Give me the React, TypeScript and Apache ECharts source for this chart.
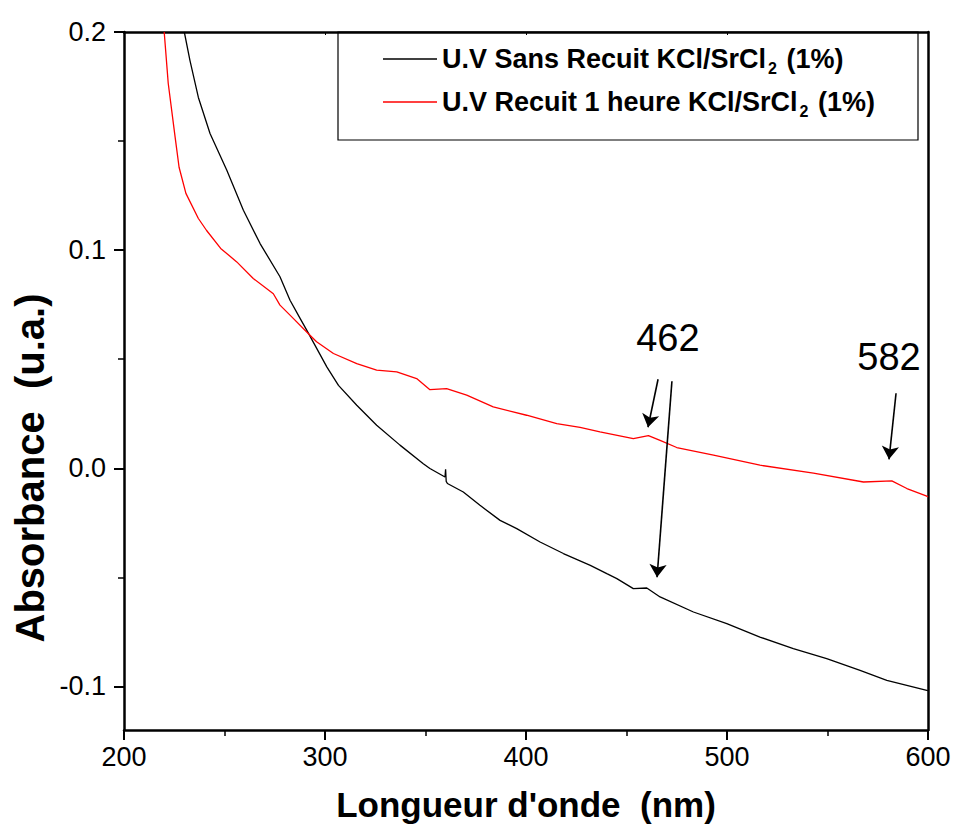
import React, { useEffect, useRef } from "react";
import * as echarts from "echarts";

// Wavelength (nm) and absorbance (u.a.)
const wavelengthBlack = [230, 232.8, 237, 242.8, 251.1, 259.4, 267.7, 277.6, 282.6, 287.6, 290.9, 300.9, 306.7, 315.8, 325.7, 337.3, 348.9, 352.2, 359.7, 360, 360.3, 360.9, 368.8, 377.1, 387.1, 395.4, 407, 418.6, 432, 440.2, 445.2, 453.4, 460.1, 466.7, 483.3, 499.9, 516.4, 533, 549.6, 566.2, 579.5, 599.4, 600];
const absorbanceBlack = [0.2, 0.187, 0.17, 0.1535, 0.1367, 0.1183, 0.103, 0.0878, 0.077, 0.0687, 0.0633, 0.0465, 0.038, 0.0289, 0.0197, 0.0106, 0.0021, -0.0001, -0.004, -0.0005, -0.006, -0.007, -0.0109, -0.017, -0.0239, -0.0277, -0.0338, -0.0391, -0.0445, -0.0483, -0.0506, -0.0552, -0.0549, -0.059, -0.0659, -0.0712, -0.0774, -0.0827, -0.0873, -0.0927, -0.0972, -0.1018, -0.102];

const wavelengthRed = [220, 222, 225.4, 227.4, 230.8, 237, 241.1, 248.1, 256.1, 264.3, 274.3, 277.6, 284.2, 290.9, 295.8, 304.2, 315.8, 325.7, 335.7, 345.6, 352.2, 360.5, 370.5, 383.7, 400.3, 415.3, 426.9, 436.8, 453.4, 460.9, 466.7, 475, 493.3, 516.4, 543, 567.9, 582, 589.5, 599.4, 600];
const absorbanceRed = [0.2, 0.1765, 0.152, 0.138, 0.126, 0.1145, 0.109, 0.1008, 0.0946, 0.087, 0.08, 0.0748, 0.0687, 0.0625, 0.058, 0.0526, 0.048, 0.045, 0.0442, 0.0411, 0.036, 0.0365, 0.0335, 0.0281, 0.0243, 0.0205, 0.0187, 0.0167, 0.0136, 0.015, 0.0128, 0.0095, 0.006, 0.0014, -0.0022, -0.0063, -0.0058, -0.0093, -0.0128, -0.0132];

const seriesNames = ["U.V Sans Recuit KCl/SrCl2 (1%)", "U.V Recuit 1 heure KCl/SrCl2 (1%)"];
const legendParts = [
  ["U.V Sans Recuit KCl/SrCl", "2", " (1%)"],
  ["U.V Recuit 1 heure KCl/SrCl", "2", " (1%)"],
];

const yMajorTicks = [-0.1, 0, 0.1, 0.2];
const yMinorTicks = [-0.05, 0.05, 0.15];

const peakLabels = ["462", "582"];
const peakLabelCoords = [[470.6, 0.0596], [580.6, 0.0509]];
// arrows: [start, end] in data coordinates
const arrows = [
  [[465.7, 0.0408], [460.7, 0.0188]],
  [[472.6, 0.0399], [465.2, -0.0500]],
  [[584.1, 0.0344], [580.6, 0.0041]],
];

const FONT = "'Liberation Sans', Arial, Helvetica, sans-serif";

function zip(xs: number[], ys: number[]) {
  return xs.map((x, i) => [x, ys[i]]);
}

export default function App() {
  const ref = useRef<HTMLDivElement>(null);
  useEffect(() => {
    if (!ref.current) return;
    const chart = echarts.init(ref.current, null, { renderer: "svg" });
    const grid = { left: 124, right: 26, top: 32, bottom: 108 };
    const yBase = { type: "value", min: -0.12, max: 0.2, splitLine: { show: false } };
    chart.setOption({
      animation: false,
      backgroundColor: "#fff",
      grid,
      xAxis: [
        {
          type: "value",
          min: 200,
          max: 600,
          interval: 100,
          position: "bottom",
          name: "Longueur d'onde  (nm)",
          nameLocation: "middle",
          nameGap: 57,
          nameTextStyle: { fontSize: 35, fontWeight: "bold", color: "#000", fontFamily: FONT },
          axisLine: { show: true, onZero: false, lineStyle: { color: "#000", width: 2.5 } },
          axisTick: { show: true, inside: false, length: 10, lineStyle: { color: "#000", width: 2 } },
          minorTick: { show: true, splitNumber: 2, length: 6, lineStyle: { color: "#000", width: 1.5 } },
          axisLabel: { color: "#000", fontSize: 27, fontFamily: FONT, margin: 13 },
          splitLine: { show: false },
          minorSplitLine: { show: false },
        },
        {
          type: "value",
          min: 200,
          max: 600,
          interval: 100,
          position: "top",
          axisLine: { show: true, onZero: false, lineStyle: { color: "#000", width: 2.5 } },
          axisTick: { show: true, inside: true, length: 3, lineStyle: { color: "#000", width: 1 } },
          axisLabel: { show: false },
          splitLine: { show: false },
        },
      ],
      yAxis: [
        {
          ...yBase,
          position: "left",
          axisLine: { show: true, onZero: false, lineStyle: { color: "#000", width: 2.5 } },
          axisTick: { show: true, inside: false, length: 10, lineStyle: { color: "#000", width: 2 }, customValues: yMajorTicks },
          axisLabel: {
            color: "#000",
            fontSize: 27,
            fontFamily: FONT,
            margin: 18,
            customValues: yMajorTicks,
            formatter: (v: number) => (Math.abs(v) < 1e-9 ? "0.0" : v.toFixed(1)),
          },
        },
        {
          ...yBase,
          position: "left",
          axisLine: { show: false, onZero: false },
          axisTick: { show: true, inside: false, length: 6, lineStyle: { color: "#000", width: 1.5 }, customValues: yMinorTicks },
          axisLabel: { show: false, customValues: yMinorTicks },
        },
        {
          ...yBase,
          position: "right",
          axisLine: { show: true, onZero: false, lineStyle: { color: "#000", width: 2.5 } },
          axisTick: { show: false },
          axisLabel: { show: false },
        },
      ],
      legend: {
        orient: "vertical",
        left: 378,
        top: 37,
        itemWidth: 54,
        itemHeight: 1.5,
        itemGap: 9,
        icon: "rect",
        data: seriesNames,
        formatter: (name: string) => {
          const p = legendParts[seriesNames.indexOf(name)];
          return `{b|${p[0]}}{s|${p[1]}}{b|${p[2]}}`;
        },
        textStyle: {
          color: "#000",
          fontFamily: FONT,
          fontWeight: "bold",
          fontSize: 27,
          rich: {
            b: { fontSize: 27, fontWeight: "bold", fontFamily: FONT, color: "#000", lineHeight: 34 },
            s: { fontSize: 16, fontWeight: "bold", fontFamily: FONT, color: "#000", padding: [18, 2, 0, 2], lineHeight: 34 },
          },
        },
      },
      graphic: [
        {
          type: "rect",
          shape: { x: 338, y: 32, width: 580, height: 108 },
          style: { fill: "none", stroke: "#000", lineWidth: 1.2 },
          z: 1,
        },
        {
          type: "text",
          x: 30,
          y: 468,
          rotation: Math.PI / 2,
          style: {
            text: "Absorbance  (u.a.)",
            fontSize: 40,
            fontWeight: "bold",
            fontFamily: FONT,
            fill: "#000",
            align: "center",
            verticalAlign: "middle",
          },
        },
      ],
      series: [
        {
          name: seriesNames[0],
          type: "line",
          xAxisIndex: 0,
          yAxisIndex: 0,
          data: zip(wavelengthBlack, absorbanceBlack),
          showSymbol: false,
          symbol: "none",
          clip: true,
          color: "#000",
          lineStyle: { color: "#000", width: 1.3 },
          markLine: {
            silent: true,
            symbol: ["none", "arrow"],
            symbolSize: 13,
            label: { show: false },
            lineStyle: { color: "#000", width: 1.6, type: "solid" },
            data: arrows.map((a) => [{ coord: a[0] }, { coord: a[1] }]),
          },
          markPoint: {
            silent: true,
            symbol: "circle",
            symbolSize: 1,
            itemStyle: { color: "rgba(0,0,0,0)" },
            label: { show: true, position: "inside", color: "#000", fontSize: 38, fontFamily: FONT },
            data: peakLabels.map((t, i) => ({ coord: peakLabelCoords[i], value: t, label: { formatter: t } })),
          },
        },
        {
          name: seriesNames[1],
          type: "line",
          xAxisIndex: 0,
          yAxisIndex: 0,
          data: zip(wavelengthRed, absorbanceRed),
          showSymbol: false,
          symbol: "none",
          clip: true,
          color: "#ff0000",
          lineStyle: { color: "#ff0000", width: 1.3 },
        },
      ],
    });
    return () => chart.dispose();
  }, []);
  return (
    <div
      ref={ref}
      style={{ position: "fixed", left: 0, top: 0, width: 954, height: 838, background: "#fff" }}
    />
  );
}
